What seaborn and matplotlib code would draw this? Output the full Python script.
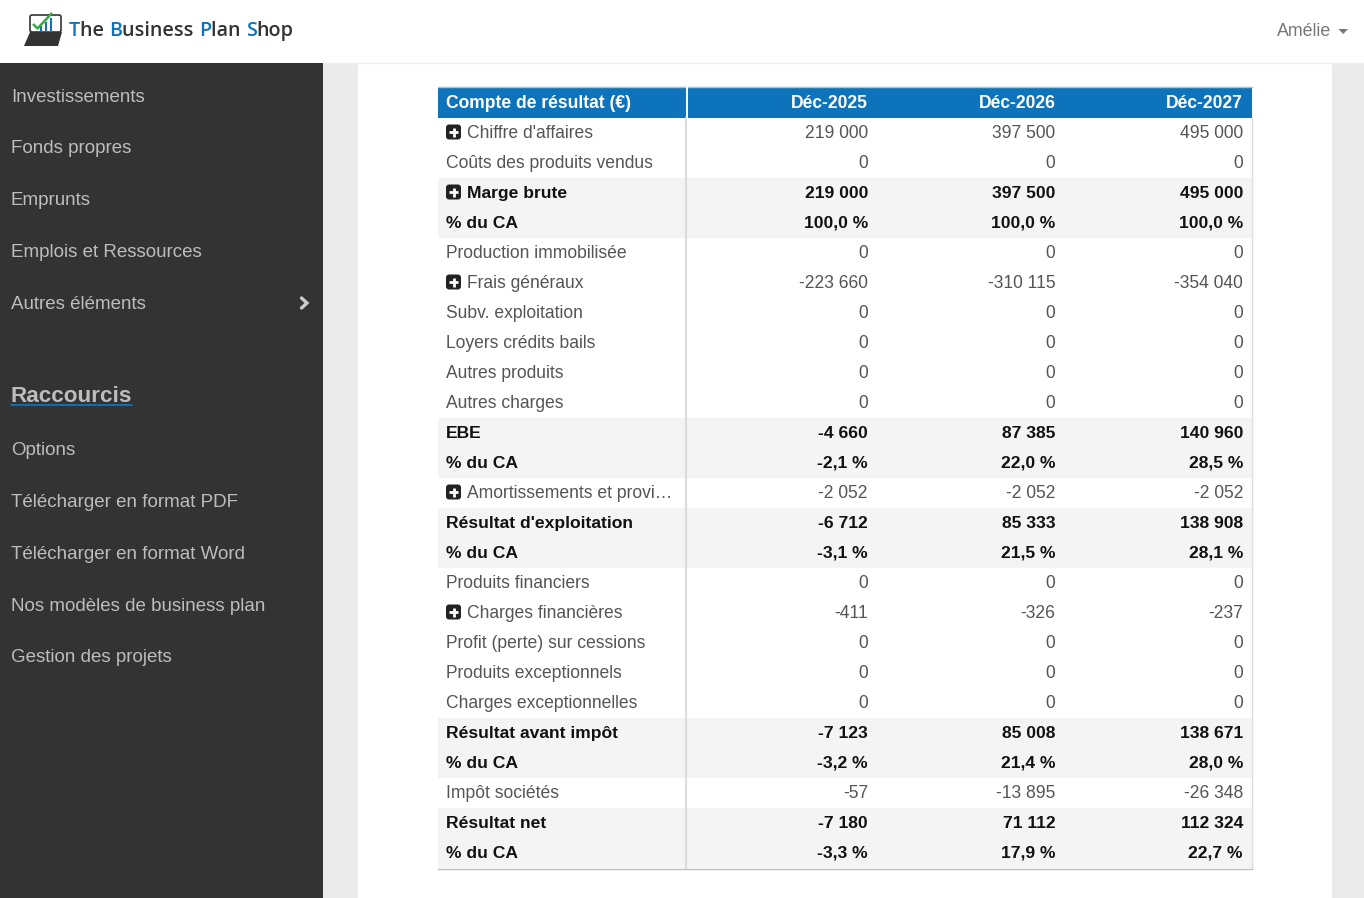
import numpy as np
import matplotlib
matplotlib.use("Agg")
import matplotlib.pyplot as plt
from matplotlib.colors import ListedColormap
from matplotlib.patches import Rectangle, FancyBboxPatch, Polygon
import seaborn as sns

menu_top = ["Investissements", "Fonds propres", "Emprunts", "Emplois et Ressources", "Autres éléments"]
menu_top_y = [102, 153, 205, 257, 309]
menu_bottom = ["Options", "Télécharger en format PDF", "Télécharger en format Word",
               "Nos modèles de business plan", "Gestion des projets"]
menu_bottom_y = [455, 507, 559, 611, 662]

headers = ["Compte de résultat (€)", "Déc-2025", "Déc-2026", "Déc-2027"]
labels = ["Chiffre d'affaires", "Coûts des produits vendus", "Marge brute", "% du CA",
          "Production immobilisée", "Frais généraux", "Subv. exploitation", "Loyers crédits bails",
          "Autres produits", "Autres charges", "EBE", "% du CA", "Amortissements et provi…",
          "Résultat d'exploitation", "% du CA", "Produits financiers", "Charges financières",
          "Profit (perte) sur cessions", "Produits exceptionnels", "Charges exceptionnelles",
          "Résultat avant impôt", "% du CA", "Impôt sociétés", "Résultat net", "% du CA"]
dec_2025 = [219000, 0, 219000, 100.0, 0, -223660, 0, 0, 0, 0, -4660, -2.1, -2052, -6712, -3.1,
            0, -411, 0, 0, 0, -7123, -3.2, -57, -7180, -3.3]
dec_2026 = [397500, 0, 397500, 100.0, 0, -310115, 0, 0, 0, 0, 87385, 22.0, -2052, 85333, 21.5,
            0, -326, 0, 0, 0, 85008, 21.4, -13895, 71112, 17.9]
dec_2027 = [495000, 0, 495000, 100.0, 0, -354040, 0, 0, 0, 0, 140960, 28.5, -2052, 138908, 28.1,
            0, -237, 0, 0, 0, 138671, 28.0, -26348, 112324, 22.7]
bold_rows = ["Marge brute", "% du CA", "EBE", "Résultat d'exploitation", "Résultat avant impôt", "Résultat net"]
plus_rows = ["Chiffre d'affaires", "Marge brute", "Frais généraux", "Amortissements et provi…", "Charges financières"]

BLUE = "#0d74bb"
W, H = 1364, 898


def fmt(value, label):
    if label == "% du CA":
        return f"{value:.1f} %".replace(".", ",")
    return f"{value:,d}".replace(",", " ")


def row_y(i):
    return 118 + 30 * i + 14


def logo_text(page, parts, x, y, size):
    # draws the word pieces one after the other, some letters are blue
    renderer = page.figure.canvas.get_renderer()
    for piece, colour in parts:
        t = page.text(x, y, piece, color=colour, fontsize=size, family="Open Sans",
                      fontweight=600, va="baseline", ha="left")
        x += t.get_window_extent(renderer).width


sns.set_theme(style="white")
plt.rcParams["font.family"] = ["Liberation Sans", "DejaVu Sans"]

fig = plt.figure(figsize=(W / 100, H / 100), dpi=100, facecolor="white")

# table body shading comes from a heatmap, one row per line of the table
ax = fig.add_axes([438 / W, 1 - 868 / H, (1252 - 438) / W, 750 / H], zorder=2)
shade = np.array([[1 if lab in bold_rows else 0] for lab in labels])
sns.heatmap(shade, cmap=ListedColormap(["#ffffff", "#f4f4f4"]), cbar=False, ax=ax,
            xticklabels=False, yticklabels=False, vmin=0, vmax=1)

page = fig.add_axes([0, 0, 1, 1], zorder=3)
page.set_xlim(0, W)
page.set_ylim(H, 0)
page.axis("off")
page.patch.set_alpha(0)

back = fig.add_axes([0, 0, 1, 1], zorder=1)
back.set_xlim(0, W)
back.set_ylim(H, 0)
back.axis("off")
back.add_patch(Rectangle((323, 63), W - 323, H - 63, color="#ebebeb", lw=0))
back.add_patch(Rectangle((358, 63), 974, H - 63, color="#ffffff", lw=0))
back.add_patch(Rectangle((0, 63), 323, H - 63, color="#333333", lw=0))
back.plot([323, W], [62.5, 62.5], color="#eeeeee", lw=1)

# logo
page.add_patch(FancyBboxPatch((30, 15), 31, 17, boxstyle="round,pad=0,rounding_size=2",
                              fc="white", ec="#333333", lw=1.2))
page.add_patch(Polygon([[30, 32], [62, 32], [58, 46], [24, 46]], color="#333333", lw=0))
for bx, top in zip([39.5, 44.5, 49.5], [26, 22, 18]):
    page.add_patch(Rectangle((bx, top), 2.4, 32 - top, color=BLUE, lw=0))
page.plot([33, 37.5, 52], [24, 28.5, 13], color="#3aa845", lw=1.8, solid_capstyle="butt")
logo_text(page, [("T", BLUE), ("he ", "#333333"), ("B", BLUE), ("usiness ", "#333333"),
                 ("P", BLUE), ("lan ", "#333333"), ("S", BLUE), ("hop", "#333333")], 69, 36, 14.2)

# user menu
page.text(1331, 36, "Amélie", color="#777777", fontsize=12.8, ha="right", va="baseline")
page.add_patch(Polygon([[1338.5, 29], [1348, 29], [1343.2, 34]], color="#777777", lw=0))

# side menu
for name, y in zip(menu_top + menu_bottom, menu_top_y + menu_bottom_y):
    page.text(11, y, name, color="#bdbdbd", fontsize=13.5, ha="left", va="baseline")
page.plot([301.5, 307, 301.5], [298, 303, 308], color="#cccccc", lw=2.4, solid_joinstyle="miter")
page.text(11, 402, "Raccourcis", color="#bdbdbd", fontsize=16.2, fontweight="bold", ha="left", va="baseline")
page.plot([10.5, 132], [404.5, 404.5], color=BLUE, lw=1.3)

# table header
page.add_patch(Rectangle((438, 87), 814, 31, color=BLUE, lw=0))
page.plot([438, 1252], [86.5, 86.5], color="#bbbbbb", lw=1)
page.plot([686.5, 686.5], [87, 118], color="white", lw=1.4)
page.text(446, 108, headers[0], color="white", fontsize=12.65, fontweight="bold", ha="left", va="baseline")
col_right = [868, 1055.5, 1243]
for head, xr in zip(headers[1:], col_right):
    page.text(xr, 108, head, color="white", fontsize=12.65, fontweight="bold", ha="right", va="baseline")

# table lines
page.plot([686, 686], [118, 868], color="#dddddd", lw=1.6)
page.plot([1251.5, 1251.5], [118, 868], color="#dddddd", lw=1)
page.plot([438, 1252], [868.5, 868.5], color="#bdbdbd", lw=1)

for i, lab in enumerate(labels):
    is_bold = lab in bold_rows
    colour = "#111111" if is_bold else "#555555"
    weight = "bold" if is_bold else "normal"
    size = 12.6 if is_bold else 12.65
    base = row_y(i) + 6
    x0 = 446
    if lab in plus_rows:
        yc = row_y(i)
        page.add_patch(FancyBboxPatch((447.5, yc - 6), 12, 12, boxstyle="round,pad=1.5,rounding_size=3",
                                      fc="#222222", ec="none"))
        page.plot([449, 458], [yc, yc], color="white", lw=2, solid_capstyle="butt")
        page.plot([453.5, 453.5], [yc - 4.5, yc + 4.5], color="white", lw=2, solid_capstyle="butt")
        x0 = 467
    page.text(x0, base, lab, color=colour, fontsize=size, fontweight=weight, ha="left", va="baseline")
    for series, xr in zip([dec_2025, dec_2026, dec_2027], col_right):
        page.text(xr, base, fmt(series[i], lab), color=colour, fontsize=size, fontweight=weight,
                  ha="right", va="baseline")

fig.savefig("out.png", dpi=100, facecolor="white")
